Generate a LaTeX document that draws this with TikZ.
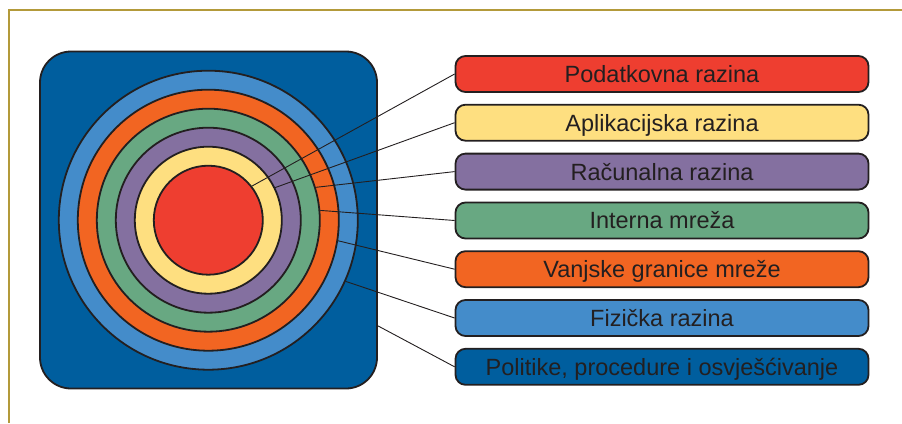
\documentclass[tikz,border=0pt]{standalone}
\usepackage{fontspec}
\setmainfont{Liberation Sans}
\begin{document}
\definecolor{frameGold}{HTML}{B39A3A}
\definecolor{inkDark}{HTML}{231F20}
\definecolor{layDark}{HTML}{005E9E}
\definecolor{layLight}{HTML}{448CCA}
\definecolor{layOrange}{HTML}{F26522}
\definecolor{layGreen}{HTML}{68A882}
\definecolor{layPurple}{HTML}{8470A0}
\definecolor{layYellow}{HTML}{FEDF80}
\definecolor{layRed}{HTML}{EE3E30}
\begin{tikzpicture}[x=1pt,y=-1pt,
  ring/.style={circle, draw=inkDark, line width=1.8pt, inner sep=0pt, minimum size=#1},
  labelbox/.style={draw=inkDark, line width=1.8pt, rounded corners=10pt,
    minimum width=413pt, minimum height=36pt, inner sep=0pt,
    text height=16.8pt, text depth=0pt, text=inkDark,
    font=\fontsize{23.5}{26}\selectfont},
  leader/.style={draw=inkDark, line width=0.9pt}]
\useasboundingbox (0,0) rectangle (902,423);
% gold page frame
\draw[frameGold, line width=2.4pt] (9,423) -- (9,10) -- (902,10);
% dark rounded square
\node[draw=inkDark, line width=1.8pt, fill=layDark, rounded corners=31pt,
  minimum width=337pt, minimum height=337pt, inner sep=0pt] (sq) at (208.5,220) {};
% concentric layers
\node[ring=299pt, fill=layLight]  (cLight)  at (208.3,220.2) {};
\node[ring=261pt, fill=layOrange] (cOrange) at (208.3,220.2) {};
\node[ring=223pt, fill=layGreen]  (cGreen)  at (208.3,220.2) {};
\node[ring=185pt, fill=layPurple] (cPurple) at (208.3,220.2) {};
\node[ring=147pt, fill=layYellow] (cYellow) at (208.3,220.2) {};
\node[ring=109pt, fill=layRed]    (cRed)    at (208.3,220.2) {};
% legend boxes
\node[labelbox, fill=layRed]    (b1) at (662,74)    {Podatkovna razina};
\node[labelbox, fill=layYellow] (b2) at (662,122.7) {Aplikacijska razina};
\node[labelbox, fill=layPurple] (b3) at (662,171.6) {Računalna razina};
\node[labelbox, fill=layGreen]  (b4) at (662,220.5) {Interna mreža};
\node[labelbox, fill=layOrange] (b5) at (662,269.2) {Vanjske granice mreže};
\node[labelbox, fill=layLight]  (b6) at (662,318)   {Fizička razina};
\node[labelbox, fill=layDark]   (b7) at (662,366.8) {Politike, procedure i osvješćivanje};
% leader lines
\draw[leader] (cRed.38.4)    -- (b1.west);
\draw[leader] (cYellow.26)   -- (b2.west);
\draw[leader] (cGreen.17.1)  -- (b3.west);
\draw[leader] (cGreen.5)     -- (b4.west);
\draw[leader] (cOrange.-9)   -- (b5.west);
\draw[leader] (cLight.-24.4) -- (b6.west);
\draw[leader] (sq.-32.9)     -- (b7.west);
\end{tikzpicture}
\end{document}
